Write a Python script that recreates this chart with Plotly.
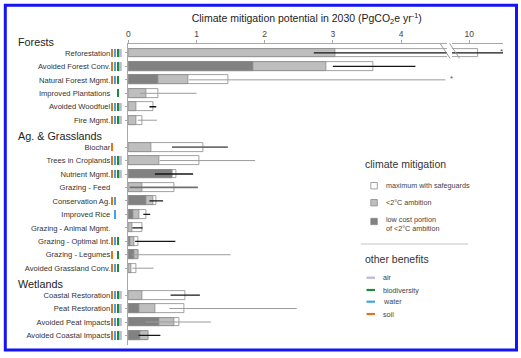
import plotly.graph_objects as go

# ---------------- data ----------------
groups = ["Forests", "Ag. & Grasslands", "Wetlands"]
group_sizes = [6, 10, 4]
categories = [
    "Reforestation", "Avoided Forest Conv.", "Natural Forest Mgmt.", "Improved Plantations",
    "Avoided Woodfuel", "Fire Mgmt.",
    "Biochar", "Trees in Croplands", "Nutrient Mgmt.", "Grazing - Feed", "Conservation Ag.",
    "Improved Rice", "Grazing - Animal Mgmt.", "Grazing - Optimal Int.", "Grazing - Legumes",
    "Avoided Grassland Conv.",
    "Coastal Restoration", "Peat Restoration", "Avoided Peat Impacts", "Avoided Coastal Impacts",
]
low_cost = [0, 1.83, 0.44, 0, 0, 0,
            0, 0, 0.64, 0, 0.26, 0.08, 0, 0.03, 0.09, 0,
            0, 0.16, 0.45, 0.18]
ambition = [3.04, 2.90, 0.88, 0.27, 0.11, 0.12,
            0.33, 0.45, 0.65, 0.21, 0.37, 0.16, 0.06, 0.09, 0.15, 0.04,
            0.20, 0.39, 0.67, 0.29]
maximum = [10.12, 3.59, 1.47, 0.44, 0.37, 0.21,
           1.10, 1.04, 0.71, 0.68, 0.41, 0.27, 0.20, 0.15, 0.15, 0.12,
           0.84, 0.82, 0.75, 0.30]
ci_low = [2.72, 3.00, 0.89, 0.17, 0.31, 0.14,
          0.64, 0.46, 0.39, 0.02, 0.31, 0.22, 0.06, 0.10, 0.05, 0.06,
          0.62, 0.60, 0.25, 0.15]
ci_high = [11.0, 4.21, 4.65, 1.00, 0.41, 0.42,
           1.46, 1.86, 0.95, 1.02, 0.51, 0.32, 0.21, 0.69, 1.50, 0.37,
           1.05, 2.47, 1.21, 0.47]
ci_style = ["k", "k", "g", "g", "k", "g",
            "d", "g", "k", "d", "k", "k", "k", "k", "g", "g",
            "k", "g", "g", "k"]
soil =         [1, 1, 1, 0, 1, 1,  1, 1, 1, 0, 1, 0, 0, 1, 1, 1,  1, 1, 1, 1]
water =        [1, 1, 1, 0, 1, 1,  0, 1, 1, 0, 1, 1, 0, 1, 0, 1,  1, 1, 1, 1]
biodiversity = [1, 1, 1, 1, 1, 1,  0, 1, 1, 0, 0, 0, 0, 1, 1, 1,  1, 1, 1, 1]
air =          [1, 1, 0, 0, 1, 1,  0, 1, 1, 0, 0, 0, 0, 0, 0, 0,  1, 1, 1, 1]
x_ticks_main = [0, 1, 2, 3, 4]
x_ticks_break = [10]

# ---------------- styling ----------------
FONT = "Liberation Sans, Arial, sans-serif"
C_WHITE, C_LIGHT, C_DARK = "#ffffff", "#bebebe", "#818181"
C_EDGE = "#8a8a8a"
C_AXIS = "#a8a8a8"
BENEFIT_COLORS = {"soil": "#e8711f", "water": "#47a3dc", "biodiversity": "#1f8a3d", "air": "#bdb5da"}
WHISKER = {"k": ("#161616", 1.3), "g": ("#9c9c9c", 1.0), "d": ("#707070", 1.7)}

W, H = 521, 358
L, R, T, B = 111, 503, 44, 345


def px(x):
    return (x - L) / (R - L)


def py(y):
    return (B - y) / (B - T)


# slot positions (group header occupies one slot)
slots, header_slots = [], []
s = 0
for g, n in zip(groups, group_sizes):
    header_slots.append(s)
    s += 1
    for _ in range(n):
        slots.append(s)
        s += 1

Y_RANGE = [22.71, 0.335]
MAIN_RANGE = [0, 4.673]
BREAK_RANGE = [9.746, 10.494]
dom_main = [px(128.3), px(447)]
dom_break = [px(452), 1.0]
dom_ind = [0.0, px(121.8)]

fig = go.Figure()

# nested bars on both x axes
for xa in ["x", "x2"]:
    for vals, col in [(maximum, C_WHITE), (ambition, C_LIGHT), (low_cost, C_DARK)]:
        fig.add_trace(go.Bar(
            y=slots, x=vals, orientation="h", xaxis=xa, yaxis="y", width=0.66,
            marker=dict(color=col, line=dict(color=C_EDGE, width=0.8)),
            showlegend=False, hoverinfo="skip"))
    # whiskers
    for st, (col, wd) in WHISKER.items():
        xs, ys = [], []
        for i, sl in enumerate(slots):
            if ci_style[i] == st:
                xs += [ci_low[i], ci_high[i], None]
                ys += [sl, sl, None]
        fig.add_trace(go.Scatter(x=xs, y=ys, mode="lines", xaxis=xa, yaxis="y",
                                 line=dict(color=col, width=wd), showlegend=False,
                                 hoverinfo="skip"))

# benefit indicators
for k, (name, flags) in enumerate([("soil", soil), ("water", water),
                                    ("biodiversity", biodiversity), ("air", air)]):
    ys = [sl for sl, f in zip(slots, flags) if f]
    fig.add_trace(go.Bar(
        x=[k] * len(ys), y=[0.62] * len(ys), base=[y - 0.31 for y in ys],
        xaxis="x3", yaxis="y", width=0.78, marker=dict(color=BENEFIT_COLORS[name], line=dict(width=0)),
        showlegend=False, hoverinfo="skip"))

axis_common = dict(side="top", anchor="y", showline=True, linecolor=C_AXIS, linewidth=1,
                   ticks="outside", ticklen=3, tickcolor=C_AXIS, showgrid=False, zeroline=False,
                   tickfont=dict(family=FONT, size=8.5, color="#444"), fixedrange=True)

fig.update_layout(
    width=W, height=H,
    margin=dict(l=L, r=W - R, t=T, b=H - B, pad=0),
    paper_bgcolor="white", plot_bgcolor="white",
    barmode="overlay", bargap=0,
    font=dict(family=FONT, color="#333"),
    title=dict(text="Climate mitigation potential in 2030 (PgCO<sub>2</sub>e yr<sup>-1</sup>)",
               x=306.7 / W, xref="container", xanchor="center",
               y=1 - 18.5 / H, yref="container", yanchor="middle",
               font=dict(family=FONT, size=10.5, color="#222")),
    xaxis=dict(domain=dom_main, range=MAIN_RANGE, tickvals=x_ticks_main, **axis_common),
    xaxis2=dict(domain=dom_break, range=BREAK_RANGE, tickvals=x_ticks_break, **axis_common),
    xaxis3=dict(domain=dom_ind, range=[-0.5, 3.5], anchor="y", visible=False, fixedrange=True),
    yaxis=dict(range=Y_RANGE, anchor="x", tickvals=slots, ticktext=categories,
               showline=True, linecolor=C_AXIS, linewidth=1, ticks="outside", ticklen=2.5,
               tickcolor=C_AXIS, showgrid=False, zeroline=False, ticklabelstandoff=13,
               tickfont=dict(family=FONT, size=7.6, color="#333"), fixedrange=True),
)

anns, shapes = [], []

# group headers
for g, hs in zip(groups, header_slots):
    yp = (Y_RANGE[0] - hs) / (Y_RANGE[0] - Y_RANGE[1])
    anns.append(dict(text=g, xref="paper", yref="paper", x=px(16), y=yp, xanchor="left",
                     yanchor="middle", yshift=-2.5, showarrow=False,
                     font=dict(family=FONT, size=10.8, color="#222")))

# asterisks for truncated whiskers
for (xx, yy) in [(501.5, 51.5), (451, 78.5)]:
    anns.append(dict(text="*", xref="paper", yref="paper", x=px(xx), y=py(yy), showarrow=False,
                     xanchor="center", yanchor="middle", font=dict(family=FONT, size=8, color="#555")))

# axis break marks
for (x0, x1) in [(440, 450), (449.5, 459.5)]:
    shapes.append(dict(type="line", xref="paper", yref="paper", x0=px(x0), y0=py(43.3),
                       x1=px(x1), y1=py(58.3), line=dict(color="#9a9a9a", width=1)))

# legend: climate mitigation
anns.append(dict(text="climate mitigation", xref="paper", yref="paper", x=px(362.5), y=py(163.5),
                 xanchor="left", yanchor="middle", showarrow=False,
                 font=dict(family=FONT, size=10.5, color="#333")))
leg_items = [("maximum with safeguards", C_WHITE, 185.7, 185.7),
             ("&lt;2°C ambition", C_LIGHT, 202.7, 202.7),
             ("low cost portion<br>of &lt;2°C ambition", C_DARK, 221.5, 224.3)]
for txt, col, ysq, ytx in leg_items:
    shapes.append(dict(type="rect", xref="paper", yref="paper", x0=px(370.8), x1=px(377.3),
                       y0=py(ysq - 3.2), y1=py(ysq + 3.2), fillcolor=col,
                       line=dict(color="#8a8a8a", width=0.8)))
    anns.append(dict(text=txt, xref="paper", yref="paper", x=px(383.5), y=py(ytx), xanchor="left",
                     yanchor="middle", align="left", showarrow=False,
                     font=dict(family=FONT, size=7.2, color="#444")))

shapes.append(dict(type="line", xref="paper", yref="paper", x0=px(361), x1=px(468),
                   y0=py(244), y1=py(244), line=dict(color="#c4c4c4", width=1)))

anns.append(dict(text="other benefits", xref="paper", yref="paper", x=px(362.5), y=py(258.5),
                 xanchor="left", yanchor="middle", showarrow=False,
                 font=dict(family=FONT, size=10.5, color="#333")))
for name, yy in [("air", 277.7), ("biodiversity", 290), ("water", 301.7), ("soil", 314)]:
    shapes.append(dict(type="line", xref="paper", yref="paper", x0=px(366.5), x1=px(375),
                       y0=py(yy), y1=py(yy), line=dict(color=BENEFIT_COLORS[name], width=2.2)))
    anns.append(dict(text=name, xref="paper", yref="paper", x=px(380.5), y=py(yy), xanchor="left",
                     yanchor="middle", showarrow=False,
                     font=dict(family=FONT, size=7.2, color="#444")))

# blue frame
shapes.append(dict(type="rect", xref="paper", yref="paper", x0=px(5.3), x1=px(516.5),
                   y0=py(350), y1=py(5.3), line=dict(color="#1414f5", width=3),
                   fillcolor="rgba(0,0,0,0)", layer="above"))

fig.update_layout(annotations=anns, shapes=shapes)
fig.write_html("out.html", config={"displayModeBar": False},
               post_script="document.body.style.margin='0';document.body.style.padding='0';")
